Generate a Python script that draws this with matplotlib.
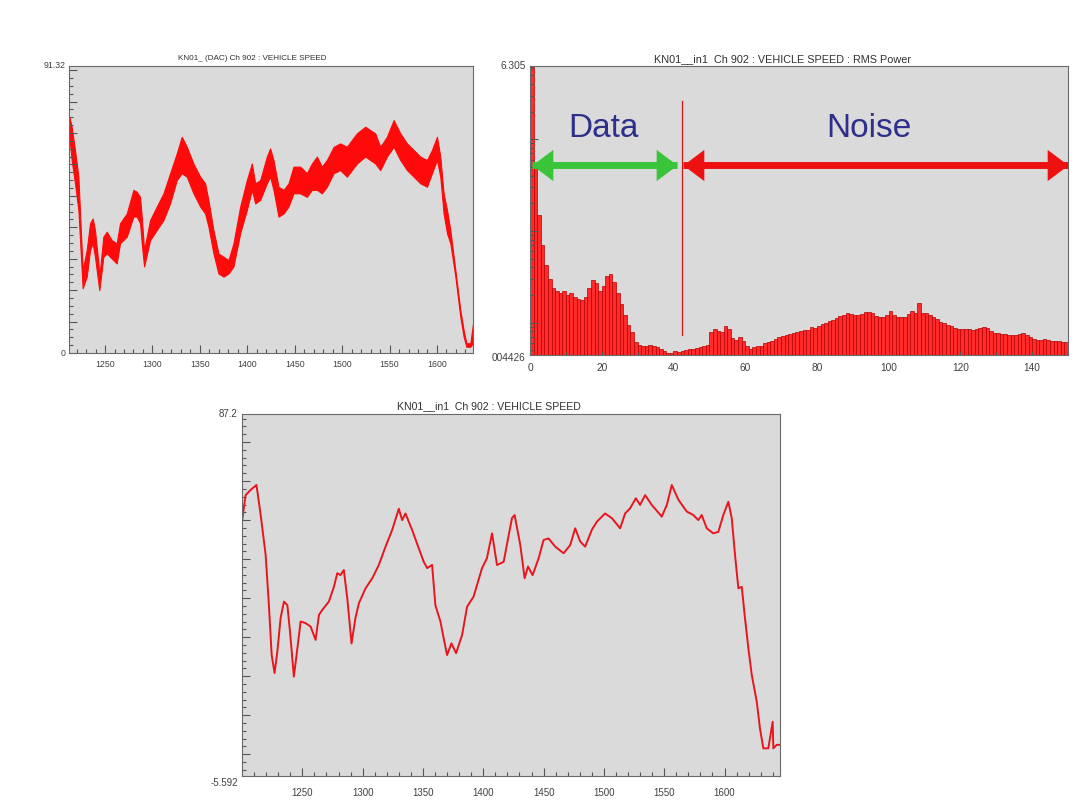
import matplotlib
matplotlib.use("Agg")
import matplotlib.pyplot as plt
from matplotlib.ticker import MultipleLocator, NullFormatter, LogLocator
import numpy as np

plt.rcParams['font.family'] = ['Liberation Sans', 'DejaVu Sans']

# ---------------- data ----------------
# bottom panel: filtered vehicle speed
speed_time = [1200, 1203, 1207, 1212, 1215.5, 1219.6, 1222.3, 1224.6, 1227, 1229.3, 1232, 1234.8,
              1237.6, 1239.8, 1243, 1245.9, 1248.6, 1252.7, 1256.9, 1261, 1263.8, 1266.6, 1272,
              1276.2, 1279, 1281.7, 1284.4, 1287.3, 1290.8, 1294, 1296.9, 1302.4, 1308, 1313.4,
              1319, 1324.5, 1330, 1332.8, 1335.5, 1341, 1346.5, 1350.7, 1353.5, 1357.6, 1360.3,
              1364.5, 1367.2, 1370, 1373.6, 1377.5, 1382.5, 1386.6, 1392, 1399, 1403, 1407.3,
              1411.4, 1416.9, 1423.8, 1426, 1430.7, 1434.3, 1437.1, 1440.9, 1445.9, 1450, 1454.1,
              1459.7, 1466.6, 1472.1, 1476.2, 1480.4, 1484.5, 1490, 1494.2, 1501, 1506.6, 1513.5,
              1517.6, 1521.7, 1526.5, 1530, 1534.2, 1539.7, 1548, 1552.2, 1556.3, 1561.8, 1568.7,
              1574.2, 1578.3, 1581.1, 1585.3, 1590.7, 1594.9, 1599, 1603.2, 1606, 1608.7, 1611.5,
              1614.3, 1617, 1619.8, 1622.6, 1626.7, 1629.4, 1632.2, 1636.3, 1637.7, 1639.9, 1640.5,
              1643.3, 1646]
speed = [59.6, 66.4, 67.7, 69.0, 61.3, 51.1, 38.2, 25.4, 20.8, 26.3, 34.9, 39.1,
         38.2, 31.4, 19.9, 27.1, 34.0, 33.6, 32.7, 29.3, 35.7, 37.0, 39.1,
         42.9, 46.4, 45.9, 47.2, 39.9, 28.4, 34.8, 38.7, 42.5, 45.1, 48.5,
         53.2, 57.5, 62.9, 60.0, 61.7, 57.5, 52.8, 49.3, 47.7, 48.5, 38.2,
         34.0, 29.7, 25.4, 28.4, 25.9, 30.6, 37.8, 40.4, 47.7, 50.2, 56.6,
         48.5, 49.3, 60.5, 61.3, 53.6, 45.1, 48.1, 45.9, 50.2, 54.9, 55.3,
         53.2, 51.5, 53.6, 57.9, 54.5, 53.2, 57.5, 59.6, 61.7, 60.5, 57.9,
         61.7, 63.0, 65.6, 63.9, 66.4, 63.9, 60.9, 63.9, 69.0, 65.2, 62.2,
         61.3, 60.0, 61.3, 57.9, 56.6, 57.0, 61.3, 64.7, 60.5, 51.1, 42.5,
         42.9, 34.8, 27.1, 20.3, 13.5, 6.6, 1.5, 1.5, 4.1, 8.3, 1.5,
         2.4, 2.4]

# top-left panel: raw DAC speed, noisy band (upper / lower envelope)
dac_time = [1212.4, 1214.8, 1218.3, 1221.9, 1226.4, 1230.7, 1234.2, 1237.0, 1239.4, 1243.0, 1244.0,
            1248.2, 1251.8, 1257.0, 1262.3, 1265.8, 1272.9, 1279.9, 1283.4, 1286.9, 1288.7, 1291.2,
            1297.5, 1304.5, 1311.6, 1318.6, 1325.6, 1330.9, 1336.2, 1343.2, 1350.3, 1355.5, 1359.0,
            1364.3, 1369.6, 1374.9, 1380.2, 1385.4, 1392.5, 1399.5, 1404.8, 1408.3, 1413.6, 1420.6,
            1424.1, 1427.6, 1432.9, 1438.2, 1443.5, 1448.7, 1455.8, 1462.8, 1468.1, 1473.4, 1478.6,
            1483.9, 1491.0, 1498.0, 1505.0, 1510.3, 1515.6, 1524.4, 1529.7, 1534.9, 1540.2, 1547.2,
            1554.3, 1561.3, 1568.4, 1575.4, 1582.4, 1589.5, 1594.7, 1600.0, 1603.5, 1607.0, 1610.6,
            1614.1, 1619.4, 1624.6, 1628.1, 1631.0, 1635.2, 1638.0]
dac_upper = [75.2, 72.0, 64.6, 56.1, 26.4, 32.8, 41.3, 42.8, 39.1, 28.5, 24.3,
             37.0, 38.6, 35.9, 34.9, 41.3, 44.4, 51.9, 51.3, 49.7, 43.4, 32.8,
             42.3, 46.6, 50.8, 57.2, 63.5, 68.8, 65.6, 60.3, 56.1, 54.0, 48.7,
             39.1, 31.7, 30.6, 29.6, 34.9, 46.6, 55.0, 60.3, 54.0, 55.0, 62.5,
             65.1, 61.4, 52.9, 51.9, 54.0, 59.3, 59.3, 57.2, 60.3, 62.5, 59.3,
             61.4, 65.6, 66.7, 65.6, 67.8, 69.9, 72.0, 70.9, 69.9, 65.6, 68.8,
             74.1, 69.9, 66.7, 64.6, 62.5, 61.4, 64.6, 68.8, 62.5, 50.8, 45.5,
             39.1, 26.4, 13.7, 7.3, 3.1, 3.1, 9.4]
dac_lower = [68.8, 61.4, 54.0, 45.5, 20.6, 24.3, 32.8, 34.9, 30.6, 22.2, 20.0,
             30.6, 31.7, 30.1, 28.5, 34.9, 37.0, 43.4, 43.4, 41.3, 34.9, 27.5,
             35.9, 39.1, 42.3, 47.6, 55.0, 57.2, 56.1, 50.8, 46.6, 44.4, 40.2,
             31.7, 25.3, 24.3, 25.3, 27.5, 38.1, 45.5, 51.9, 47.6, 48.7, 54.0,
             56.1, 51.9, 43.4, 44.4, 46.6, 50.8, 50.8, 49.7, 51.9, 51.9, 50.8,
             52.9, 57.2, 58.2, 56.1, 58.2, 60.3, 62.5, 61.4, 60.3, 58.2, 62.5,
             65.6, 61.4, 58.2, 56.1, 54.0, 52.9, 57.2, 61.4, 56.1, 44.4, 38.1,
             34.9, 24.3, 11.6, 5.2, 2.0, 2.0, 3.1]

# top-right panel: RMS power spectrum, one bar per unit frequency (0..149)
rms_power = [6.2, 0.5, 0.15, 0.07, 0.042, 0.030, 0.024, 0.022, 0.021, 0.022,
             0.020, 0.021, 0.019, 0.018, 0.0176, 0.019, 0.024, 0.029, 0.027, 0.022,
             0.025, 0.032, 0.034, 0.028, 0.021, 0.016, 0.012, 0.0095, 0.0078, 0.0062,
             0.0057, 0.0056, 0.0056, 0.0057, 0.0055, 0.0054, 0.0052, 0.0049, 0.0047, 0.0046,
             0.0049, 0.0048, 0.0049, 0.0050, 0.0051, 0.0051, 0.0053, 0.0054, 0.0056, 0.0057,
             0.0079, 0.0086, 0.0080, 0.0078, 0.0092, 0.0085, 0.0067, 0.0064, 0.0069, 0.0063,
             0.0055, 0.0052, 0.0054, 0.0056, 0.0056, 0.0060, 0.0062, 0.0063, 0.0066, 0.0069,
             0.0071, 0.0073, 0.0075, 0.0077, 0.0079, 0.0080, 0.0082, 0.0083, 0.0089, 0.0088,
             0.0092, 0.0096, 0.0100, 0.0104, 0.0107, 0.0111, 0.0117, 0.0122, 0.0126, 0.0123,
             0.0121, 0.0121, 0.0125, 0.0130, 0.0130, 0.0126, 0.0118, 0.0114, 0.0114, 0.0120,
             0.0134, 0.0120, 0.0115, 0.0114, 0.0114, 0.0124, 0.0134, 0.0127, 0.0165, 0.0127,
             0.0128, 0.0122, 0.0116, 0.0109, 0.0102, 0.0098, 0.0094, 0.0091, 0.0088, 0.0086,
             0.0085, 0.0084, 0.0084, 0.0083, 0.0084, 0.0087, 0.0090, 0.0087, 0.0080, 0.0077,
             0.0076, 0.0075, 0.0075, 0.0074, 0.0073, 0.0073, 0.0075, 0.0076, 0.0074, 0.0070,
             0.0066, 0.0065, 0.0064, 0.0066, 0.0065, 0.0063, 0.0063, 0.0063, 0.0062, 0.0062]
freq = list(range(len(rms_power)))

time_ticks = [1250, 1300, 1350, 1400, 1450, 1500, 1550, 1600]
freq_ticks = [0, 20, 40, 60, 80, 100, 120, 140]

data_span = [0.65, 41.1]
noise_span = [42.7, 150.0]
split_freq = 42.5

# ---------------- styling ----------------
BG = '#dadada'
FG = '#404040'

fig = plt.figure(figsize=(10.8, 8.1), dpi=100)
fig.patch.set_facecolor('white')

def px_axes(l, r, t, b):
    return fig.add_axes([l / 1080, 1 - b / 810, (r - l) / 1080, (b - t) / 810])

def style(ax, pad=4, fs=6.5):
    ax.set_facecolor(BG)
    for s in ax.spines.values():
        s.set_color('#6a6a6a')
        s.set_linewidth(0.8)
    ax.tick_params(which='both', direction='in', colors='#555555', labelcolor=FG,
                   labelsize=fs, width=0.8, pad=pad)
    ax.tick_params(which='major', length=6)
    ax.tick_params(which='minor', length=3)
    ax.tick_params(axis='y', labelleft=False)

# ---- top-left ----
FS1 = 6.3
ax1 = px_axes(69, 473, 66, 353)
style(ax1, pad=5, fs=FS1)
ax1.fill_between(dac_time, dac_lower, dac_upper, color='#ff0a0a', lw=0.8, edgecolor='#ff0a0a')
ax1.set_xlim(1212, 1638)
ax1.set_ylim(0, 91.32)
ax1.set_xticks(time_ticks)
ax1.xaxis.set_minor_locator(MultipleLocator(10))
ax1.yaxis.set_major_locator(MultipleLocator(10))
ax1.yaxis.set_minor_locator(MultipleLocator(2.5))
ax1.text(-0.008, 1.0, '91.32', transform=ax1.transAxes, ha='right', va='center', fontsize=FS1, color=FG)
ax1.text(-0.008, 0.0, '0', transform=ax1.transAxes, ha='right', va='center', fontsize=FS1, color=FG)
fig.text(252 / 1080, 1 - 59 / 810, 'KN01_ (DAC) Ch 902 : VEHICLE SPEED', ha='center', va='center',
         fontsize=5.9, color='#303030')

# ---- top-right ----
FS2 = 7.3
ax2 = px_axes(530, 1068, 66, 355)
style(ax2, pad=6, fs=FS2)
ymin, ymax = 0.004426, 6.305
ax2.set_yscale('log')
ax2.bar(freq, [p - ymin for p in rms_power], width=1.0, bottom=ymin, align='edge',
        color='#ff2a2a', edgecolor='#b80000', linewidth=0.5)
ax2.set_xlim(0, 150)
ax2.set_ylim(ymin, ymax)
ax2.set_xticks(freq_ticks)
ax2.xaxis.set_minor_locator(MultipleLocator(10))
ax2.yaxis.set_major_locator(LogLocator(base=10))
ax2.yaxis.set_minor_locator(LogLocator(base=10, subs=np.arange(2, 10)))
ax2.yaxis.set_minor_formatter(NullFormatter())
ax2.tick_params(axis='y', labelleft=False)
ax2.tick_params(axis='x', which='major', length=3)
ax2.tick_params(axis='x', which='minor', length=2)
ax2.text(-0.008, 1.0, '6.305', transform=ax2.transAxes, ha='right', va='center', fontsize=FS2, color=FG)
ax2.text(-0.008, -0.012, '004426', transform=ax2.transAxes, ha='right', va='center', fontsize=FS2, color=FG)
fig.text(782 / 1080, 1 - 59 / 810, 'KN01__in1  Ch 902 : VEHICLE SPEED : RMS Power', ha='center',
         va='center', fontsize=7.8, color='#303030')

# split line
ax2.plot([split_freq, split_freq], [0.0073, 2.64], color='#d01818', lw=0.9)
# arrows (heads drawn as markers whose tip sits on the span end)
arrow_y = 0.525
GREEN, RED = '#3ac43a', '#ee1111'
ax2.plot(data_span, [arrow_y, arrow_y], color=GREEN, lw=5.0, solid_capstyle='butt')
ax2.plot(noise_span, [arrow_y, arrow_y], color=RED, lw=5.0, solid_capstyle='butt')
left_head = [(0, 0), (1.0, 0.75), (1.0, -0.75), (0, 0)]
right_head = [(0, 0), (-1.0, 0.75), (-1.0, -0.75), (0, 0)]
HS = 30
ax2.plot([data_span[0]], [arrow_y], marker=left_head, ms=HS, color=GREEN, mew=0, clip_on=False)
ax2.plot([data_span[1]], [arrow_y], marker=right_head, ms=HS, color=GREEN, mew=0, clip_on=False)
ax2.plot([noise_span[0]], [arrow_y], marker=left_head, ms=HS, color=RED, mew=0, clip_on=False)
ax2.plot([noise_span[1]], [arrow_y], marker=right_head, ms=HS, color=RED, mew=0, clip_on=False)
ax2.text(20.5, 1.32, 'Data', ha='center', va='center', fontsize=24, color='#2d2f8a')
ax2.text(94.4, 1.32, 'Noise', ha='center', va='center', fontsize=24, color='#2d2f8a')

# ---- bottom ----
FS3 = 7.0
ax3 = px_axes(242, 780, 414, 776)
style(ax3, pad=9, fs=FS3)
ax3.plot(speed_time, speed, color='#e8161c', lw=1.4)
ax3.set_xlim(1200, 1646)
ax3.set_ylim(-5.592, 87.2)
ax3.set_xticks(time_ticks)
ax3.xaxis.set_minor_locator(MultipleLocator(10))
ax3.yaxis.set_major_locator(MultipleLocator(10))
ax3.yaxis.set_minor_locator(MultipleLocator(2))
ax3.text(-0.008, 1.0, '87.2', transform=ax3.transAxes, ha='right', va='center', fontsize=FS3, color=FG)
ax3.text(-0.008, -0.02, '-5.592', transform=ax3.transAxes, ha='right', va='center', fontsize=FS3, color=FG)
fig.text(489 / 1080, 1 - 406 / 810, 'KN01__in1  Ch 902 : VEHICLE SPEED', ha='center', va='center',
         fontsize=7.6, color='#303030')

fig.savefig('out.png', dpi=100, facecolor='white')
